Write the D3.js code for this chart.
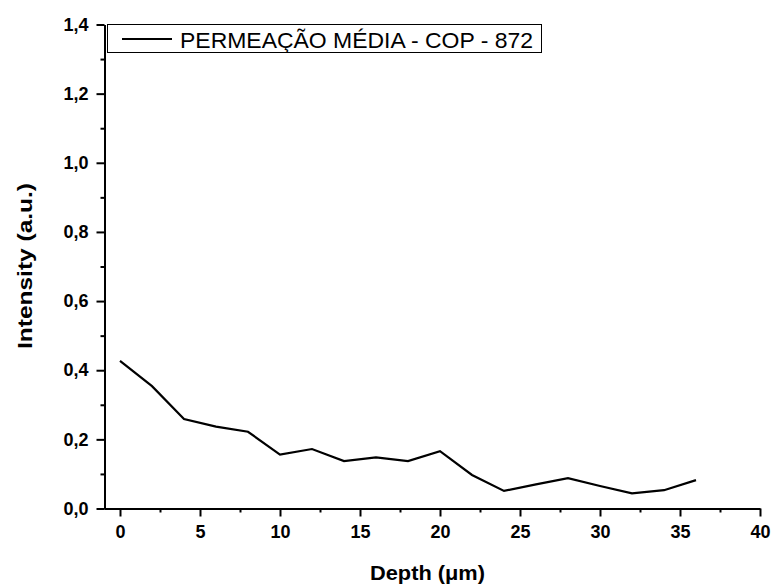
<!DOCTYPE html>
<html><head><meta charset="utf-8">
<script src="https://cdn.jsdelivr.net/npm/d3@7"></script>
<style>body{margin:0;background:#fff}svg{display:block;font-family:"Liberation Sans",Arial,sans-serif}</style>
</head><body><svg id="c" width="772" height="586"></svg>
<script>
const depth = [0,2,4,6,8,10,12,14,16,18,20,22,24,26,28,30,32,34,36];
const intensity = [0.427,0.354,0.259,0.237,0.222,0.156,0.172,0.137,0.148,0.137,0.166,0.097,0.051,0.070,0.088,0.065,0.044,0.053,0.082];
const xTicks = [0,5,10,15,20,25,30,35,40];
const yTicks = [0,0.2,0.4,0.6,0.8,1.0,1.2,1.4];
const seriesName = "PERMEAÇÃO MÉDIA - COP - 872";
const xTitle = "Depth (\u03bcm)";
const yTitle = "Intensity (a.u.)";

const svg = d3.select("#c");
const x = d3.scaleLinear().domain([-1, 40]).range([104, 760]);
const y = d3.scaleLinear().domain([0, 1.4]).range([508.5, 24.5]);
const fmt = d => d3.format(".1f")(d).replace(".", ",");

// x axis
const xa = svg.append("g").attr("transform", "translate(0,508.5)");
xa.call(d3.axisBottom(x).tickValues(xTicks).tickSize(8).tickSizeOuter(0).tickPadding(9).tickFormat(d3.format("d")));
const xMinor = svg.append("g").attr("transform", "translate(0,508.5)");
xMinor.call(d3.axisBottom(x).tickValues(d3.range(2.5, 40, 5)).tickSize(4).tickSizeOuter(0).tickFormat(""));
xMinor.select(".domain").remove();

// y axis
const ya = svg.append("g").attr("transform", "translate(104.5,0)");
ya.call(d3.axisLeft(y).tickValues(yTicks).tickSize(8).tickSizeOuter(0).tickPadding(8).tickFormat(fmt));
const yMinor = svg.append("g").attr("transform", "translate(104.5,0)");
yMinor.call(d3.axisLeft(y).tickValues(d3.range(0.1, 1.4, 0.2)).tickSize(4).tickSizeOuter(0).tickFormat(""));
yMinor.select(".domain").remove();

svg.selectAll(".domain").attr("stroke", "#000").attr("stroke-width", 2);
svg.selectAll(".tick line").attr("stroke", "#000").attr("stroke-width", 2);
svg.selectAll("g").attr("font-family", null).attr("font-size", null);
svg.selectAll(".tick text").style("font-size", "18px").style("font-weight", "bold").attr("fill", "#000")
   .style("font-family", "'Liberation Sans',Arial,sans-serif");

// titles
svg.append("text").attr("x", 427.5).attr("y", 580).attr("text-anchor", "middle")
  .style("font-size", "21px").style("font-weight", "bold")
  .attr("textLength", 115).attr("lengthAdjust", "spacingAndGlyphs").text(xTitle);
svg.append("text").attr("transform", "translate(32,266) rotate(-90)").attr("text-anchor", "middle")
  .style("font-size", "21px").style("font-weight", "bold")
  .attr("textLength", 166).attr("lengthAdjust", "spacingAndGlyphs").text(yTitle);

// line
const line = d3.line().x((d, i) => x(depth[i])).y(d => y(d));
svg.append("path").datum(intensity).attr("d", line).attr("fill", "none")
  .attr("stroke", "#000").attr("stroke-width", 2.2).attr("stroke-linejoin", "miter");

// legend
const lg = svg.append("g");
lg.append("rect").attr("x", 107.5).attr("y", 24.5).attr("width", 434).attr("height", 28)
  .attr("fill", "#fff").attr("stroke", "#000").attr("stroke-width", 1);
lg.append("line").attr("x1", 122).attr("x2", 172).attr("y1", 39).attr("y2", 39)
  .attr("stroke", "#000").attr("stroke-width", 2);
lg.append("text").attr("x", 180).attr("y", 47.5).style("font-size", "22px")
  .attr("textLength", 353).attr("lengthAdjust", "spacingAndGlyphs").text(seriesName);
</script></body></html>
